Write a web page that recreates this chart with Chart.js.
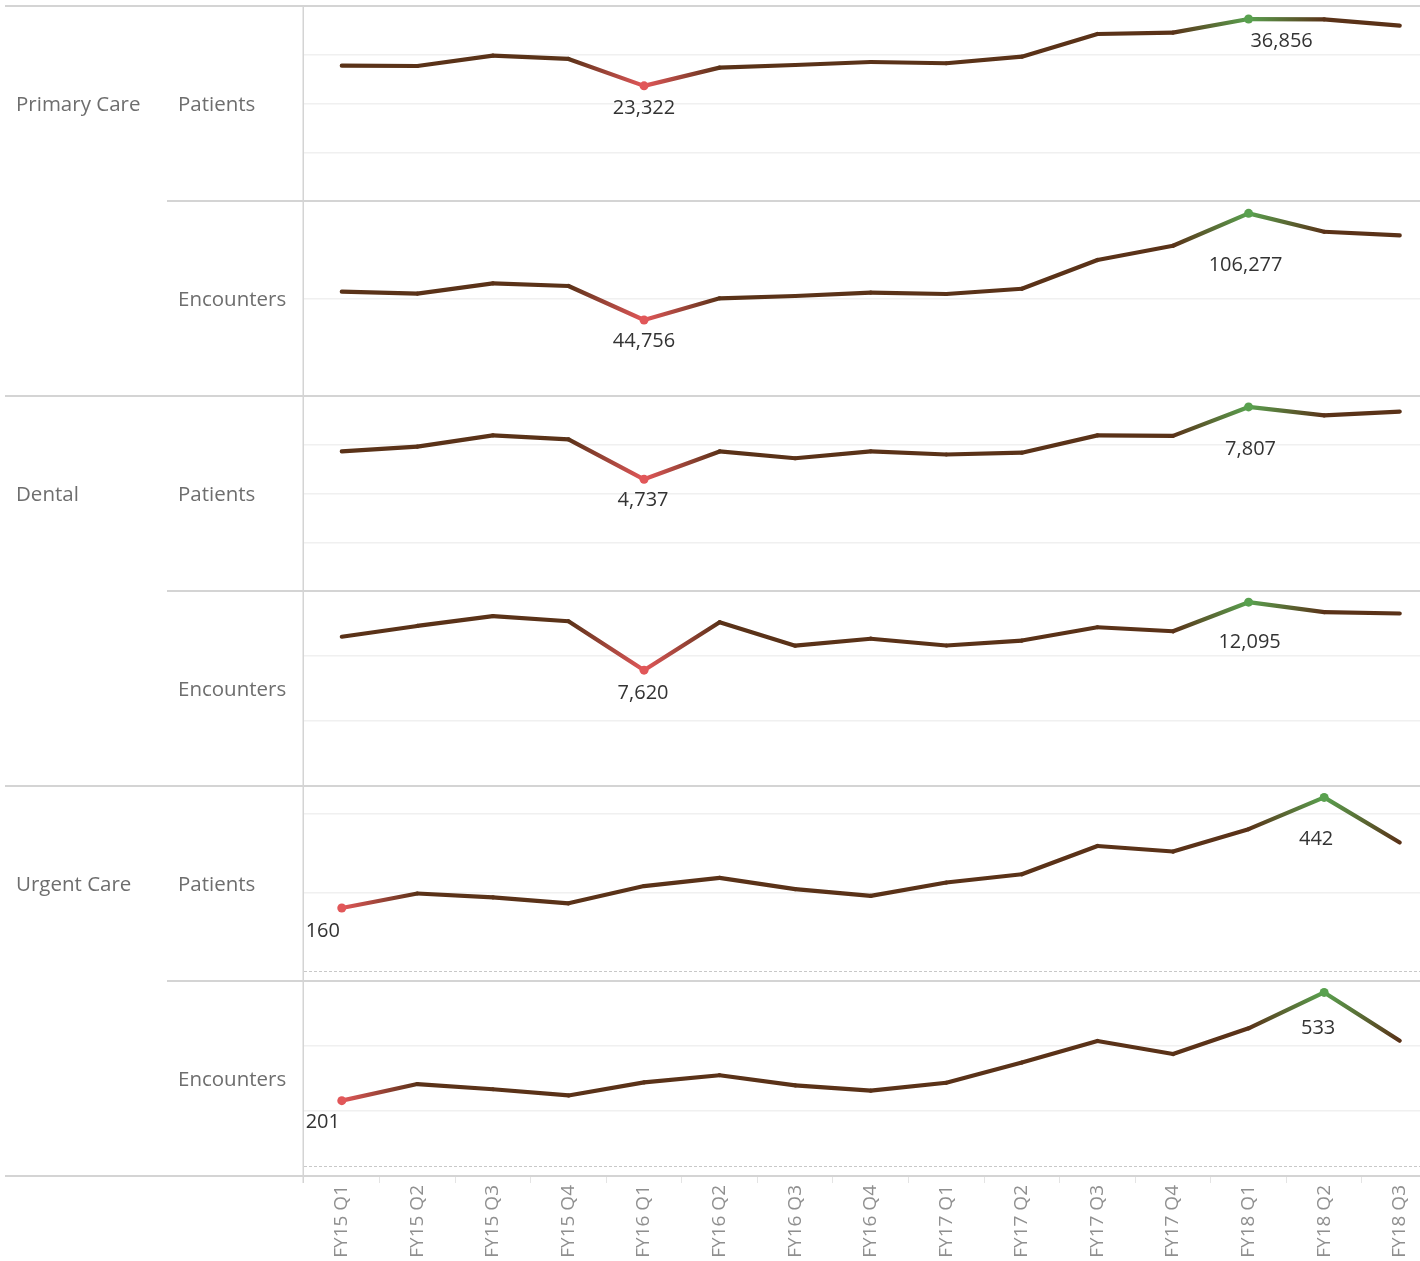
<!DOCTYPE html>
<html><head><meta charset="utf-8">
<script src="https://cdn.jsdelivr.net/npm/chart.js@4.4.1/dist/chart.umd.min.js"></script>
<style>html,body{margin:0;padding:0;background:#fff;overflow:hidden;width:1420px;height:1261px}canvas{display:block}</style>
</head><body>
<canvas id="c" width="1442" height="1261" style="width:1442px;height:1261px"></canvas>
<script>
const categories = ['FY15 Q1','FY15 Q2','FY15 Q3','FY15 Q4','FY16 Q1','FY16 Q2','FY16 Q3','FY16 Q4','FY17 Q1','FY17 Q2','FY17 Q3','FY17 Q4','FY18 Q1','FY18 Q2','FY18 Q3'];
const groupNames = ['Primary Care','Dental','Urgent Care'];
const measureNames = ['Patients','Encounters'];

const pcPatients      = [27410, 27350, 29440, 28770, 23322, 27010, 27550, 28160, 27900, 29240, 33830, 34100, 36856, 36780, 35520];
const pcEncounters    = [61060, 60000, 65900, 64350, 44756, 57260, 58580, 60490, 59740, 62790, 79340, 87590, 106277, 95660, 93580];
const dentalPatients  = [5920, 6120, 6600, 6430, 4737, 5920, 5630, 5920, 5790, 5865, 6600, 6580, 7807, 7450, 7610];
const dentalEncounters= [9820, 10530, 11180, 10840, 7620, 10780, 9235, 9690, 9245, 9570, 10445, 10180, 12095, 11440, 11350];
const ucPatients      = [160, 197, 187, 172, 216, 237, 208, 191, 225, 246, 318, 304, 361, 442, 327];
const ucEncounters    = [201, 252, 236, 217, 257, 279, 248, 232, 256, 318, 384, 344, 423, 533, 385];

const series = [pcPatients, pcEncounters, dentalPatients, dentalEncounters, ucPatients, ucEncounters];
const axisMin  = [0, 900, 0, 0, -26, -30];
const axisMax  = [39500, 113400, 8270, 12830, 471, 568];
const axisStep = [10000, 50000, 2000, 5000, 200, 200];
// label placement relative to the marked point (style, not data)
const labelShift = [
  {min:[0,21],  max:[33,21]},
  {min:[0,20],  max:[-3,51]},
  {min:[-1,20], max:[2,41]},
  {min:[-1,22], max:[1,39]},
  {min:[-19,22],max:[-8,41]},
  {min:[-19,21],max:[-6,35]}
];

const BROWN = '#5a3218', RED = '#e15759', GREEN = '#59a14f';
const FONT = "'Open Sans', 'Noto Sans', sans-serif";

const canvas = document.getElementById('c');
const c2d = canvas.getContext('2d');

function extremes(arr){
  let mi=0, ma=0;
  arr.forEach((v,i)=>{ if(v<arr[mi]) mi=i; if(v>arr[ma]) ma=i; });
  return {mi, ma};
}
function ptColor(arr, i){
  const e = extremes(arr);
  if (i===e.mi) return RED;
  if (i===e.ma) return GREEN;
  return BROWN;
}

const datasets = series.map((arr, k) => ({
  data: arr,
  yAxisID: 'y'+k,
  borderWidth: 4.2,
  borderColor: BROWN,
  borderCapStyle: 'round',
  borderJoinStyle: 'round',
  tension: 0,
  fill: false,
  pointRadius: ctx => { const e = extremes(arr); return (ctx.dataIndex===e.mi || ctx.dataIndex===e.ma) ? 4.5 : 0; },
  pointHoverRadius: 0,
  pointBorderWidth: 0,
  pointBackgroundColor: ctx => ptColor(arr, ctx.dataIndex),
  segment: {
    borderColor: sc => {
      const g = c2d.createLinearGradient(sc.p0.x, sc.p0.y, sc.p1.x, sc.p1.y);
      g.addColorStop(0, ptColor(arr, sc.p0DataIndex));
      g.addColorStop(1, ptColor(arr, sc.p1DataIndex));
      return g;
    }
  }
}));

const scales = {
  x: {
    type: 'category', labels: categories, offset: true,
    grid: { offset: true, drawOnChartArea: false, drawTicks: true, tickLength: 7, color: '#e4e4e4', lineWidth: 1 },
    border: { display: false },
    ticks: { autoSkip: false, maxRotation: 90, minRotation: 90, padding: 2, color: '#8f8f8f', font: { family: FONT, size: 19 } },
    afterFit: s => { s.height = 85; }
  }
};
// stacked left scales are laid out bottom-up in creation order, so create them in reverse
for (let k = series.length - 1; k >= 0; k--) {
  scales['y'+k] = {
    type: 'linear', position: 'left', stack: 'rows', stackWeight: 1,
    min: axisMin[k], max: axisMax[k],
    ticks: { display: false, stepSize: axisStep[k], includeBounds: false },
    grid: { drawTicks: false, lineWidth: 1.5, color: c => (c.tick && c.tick.value === 0) ? 'rgba(0,0,0,0)' : '#f0f0f0' },
    border: { display: false },
    afterFit: s => { s.width = 0; }
  };
}

const framePlugin = {
  id: 'frame',
  beforeDatasetsDraw(chart) {
    const ctx = chart.ctx, W = chart.width, area = chart.chartArea;
    ctx.save();
    series.forEach((arr, k) => {
      const s = chart.scales['y'+k];
      if (s.min < 0 && s.max > 0) {
        const y = Math.round(s.getPixelForValue(0)) + 0.5;
        ctx.strokeStyle = '#c8c8c8'; ctx.lineWidth = 1; ctx.setLineDash([3,2]);
        ctx.beginPath(); ctx.moveTo(area.left, y); ctx.lineTo(W, y); ctx.stroke();
      }
    });
    ctx.setLineDash([]);
    ctx.strokeStyle = '#d4d4d4'; ctx.lineWidth = 2;
    series.forEach((arr, k) => {
      const s = chart.scales['y'+k];
      const x0 = (k % 2 === 0) ? 5 : 167;
      ctx.beginPath(); ctx.moveTo(x0, s.top); ctx.lineTo(W, s.top); ctx.stroke();
    });
    const first = chart.scales.y0;
    const last = chart.scales['y'+(series.length-1)];
    ctx.beginPath(); ctx.moveTo(5, last.bottom); ctx.lineTo(W, last.bottom); ctx.stroke();
    ctx.lineWidth = 1.5;
    ctx.beginPath(); ctx.moveTo(area.left - 0.75, first.top); ctx.lineTo(area.left - 0.75, last.bottom + 7); ctx.stroke();
    ctx.restore();
  },
  afterDatasetsDraw(chart) {
    const ctx = chart.ctx;
    ctx.save();
    ctx.font = '20px ' + FONT;
    ctx.fillStyle = '#333333';
    ctx.textAlign = 'center';
    ctx.textBaseline = 'middle';
    series.forEach((arr, k) => {
      const meta = chart.getDatasetMeta(k);
      const e = extremes(arr);
      [['min', e.mi], ['max', e.ma]].forEach(([key, idx]) => {
        const p = meta.data[idx];
        const sh = labelShift[k][key];
        ctx.fillText(arr[idx].toLocaleString('en-US'), p.x + sh[0], p.y + sh[1] + 1);
      });
    });
    ctx.font = '20.5px ' + FONT;
    ctx.fillStyle = '#6e6e6e';
    ctx.textAlign = 'left';
    series.forEach((arr, k) => {
      const s = chart.scales['y'+k];
      const yc = (s.top + s.bottom) / 2 + 2;
      if (k % 2 === 0) ctx.fillText(groupNames[k/2], 16, yc);
      ctx.fillText(measureNames[k % 2], 178, yc);
    });
    ctx.restore();
  }
};

new Chart(canvas, {
  type: 'line',
  data: { labels: categories, datasets },
  options: {
    responsive: false,
    animation: false,
    layout: { padding: { left: 304, top: 6, right: 0, bottom: 0 } },
    plugins: { legend: { display: false }, tooltip: { enabled: false } },
    scales
  },
  plugins: [framePlugin]
});
</script>
</body></html>
